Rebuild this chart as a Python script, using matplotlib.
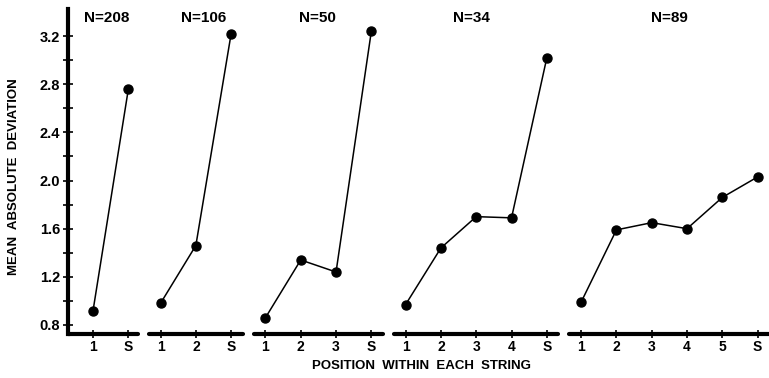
import matplotlib.pyplot as plt

# one panel per string length
titles = ["N=208", "N=106", "N=50", "N=34", "N=89"]
positions = [
    ["1", "S"],
    ["1", "2", "S"],
    ["1", "2", "3", "S"],
    ["1", "2", "3", "4", "S"],
    ["1", "2", "3", "4", "5", "S"],
]
deviation = [
    [0.92, 2.76],
    [0.98, 1.46, 3.22],
    [0.86, 1.34, 1.24, 3.24],
    [0.97, 1.44, 1.70, 1.69, 3.02],
    [0.99, 1.59, 1.65, 1.60, 1.86, 2.03],
]
ytick_major = [0.8, 1.2, 1.6, 2.0, 2.4, 2.8, 3.2]
ytick_minor = [1.0, 1.4, 1.8, 2.2, 2.6, 3.0]

plt.rcParams['font.family'] = ['Liberation Sans', 'DejaVu Sans']
plt.rcParams['font.weight'] = 'bold'

W, H = 769, 378
fig = plt.figure(figsize=(W / 100, H / 100), dpi=100)

unit = 35.3            # px between ticks
top_px, bot_px = 9, 334
left = 68.0
gap = 11.0
title_x = [0.56, 0.58, 0.49, 0.47, 0.5]

for i, (labels, vals) in enumerate(zip(positions, deviation)):
    n = len(labels)
    pad_l = 0.71 if i == 0 else 0.33
    pad_r = 0.27 if i == 0 else 0.33
    width = (n - 1 + pad_l + pad_r) * unit
    ax = fig.add_axes([left / W, (H - bot_px) / H, width / W, (bot_px - top_px) / H])
    left += width + gap

    xs = list(range(n))
    ax.plot(xs, vals, color='black', lw=1.1, marker='o', ms=6.5, clip_on=False)
    ax.set_xlim(-pad_l, n - 1 + pad_r)
    ax.set_ylim(0.725, 3.425)
    ax.set_xticks(xs)
    ax.set_xticklabels(labels, fontsize=10, fontweight='bold')
    ax.tick_params(axis='x', direction='inout', length=6, width=1.2, pad=1.5)

    for s in ['top', 'right']:
        ax.spines[s].set_visible(False)
    ax.spines['bottom'].set_linewidth(3)
    ax.spines['bottom'].set_capstyle('round')

    if i == 0:
        ax.spines['left'].set_linewidth(3)
        ax.spines['left'].set_capstyle('projecting')
        ax.set_yticks(ytick_major)
        ax.set_yticks(ytick_minor, minor=True)
        ax.set_yticklabels([f"{v:.1f}" for v in ytick_major], fontsize=10.5, fontweight='bold')
        ax.tick_params(axis='y', which='both', direction='inout', length=7, width=1.2, pad=2)
    else:
        ax.spines['left'].set_visible(False)
        ax.set_yticks([])

    ax.text(title_x[i], (bot_px - 18) / (bot_px - top_px), titles[i], transform=ax.transAxes,
            ha='center', va='center', fontsize=11, fontweight='bold')

fig.text(14 / W, (H - 177) / H, "MEAN  ABSOLUTE  DEVIATION", rotation=90,
         ha='center', va='center', fontsize=9.5, fontweight='bold')
fig.text(421 / W, (H - 366) / H, "POSITION  WITHIN  EACH  STRING",
         ha='center', va='center', fontsize=9.5, fontweight='bold')

fig.savefig('out.png', dpi=100)
